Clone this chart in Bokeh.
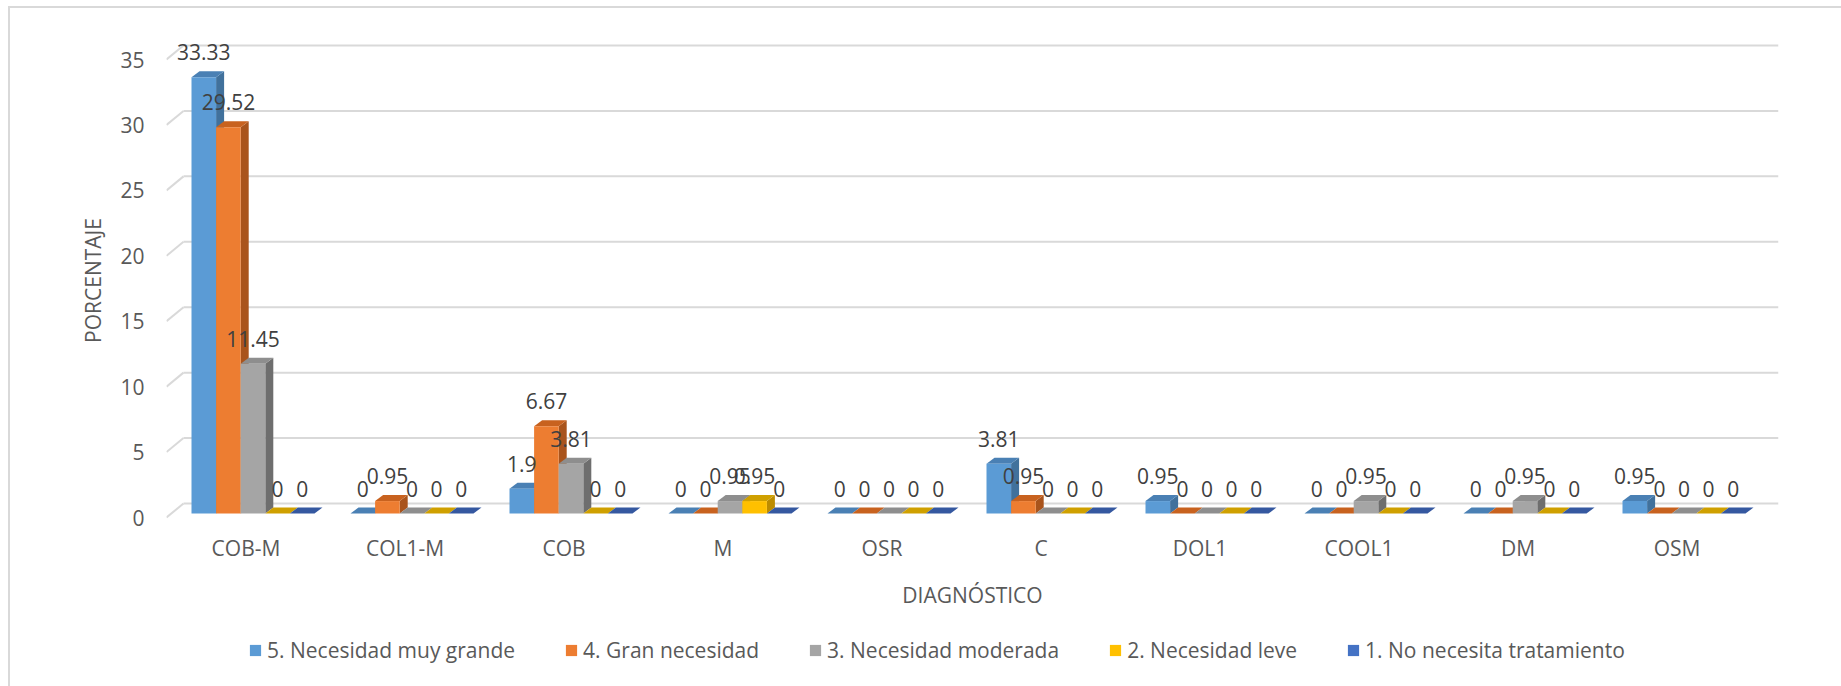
from bokeh.plotting import figure
from bokeh.layouts import column
from bokeh.models import ColumnDataSource, FixedTicker, Legend, LegendItem, Range1d
from bokeh.core.properties import value
from bokeh.embed import file_html
from bokeh.resources import INLINE

# ---- data -------------------------------------------------------------
categories = ["COB-M", "COL1-M", "COB", "M", "OSR", "C", "DOL1", "COOL1", "DM", "OSM"]
series_names = ["5. Necesidad muy grande", "4. Gran necesidad", "3. Necesidad moderada",
                "2. Necesidad leve", "1. No necesita tratamiento"]
necesidad_muy_grande = [33.33, 0, 1.9, 0, 0, 3.81, 0.95, 0, 0, 0.95]
gran_necesidad = [29.52, 0.95, 6.67, 0, 0, 0.95, 0, 0, 0, 0]
necesidad_moderada = [11.45, 0, 3.81, 0.95, 0, 0, 0, 0.95, 0.95, 0]
necesidad_leve = [0, 0, 0, 0.95, 0, 0, 0, 0, 0, 0]
no_necesita = [0, 0, 0, 0, 0, 0, 0, 0, 0, 0]
y_ticks = [0, 5, 10, 15, 20, 25, 30, 35]

series = [necesidad_muy_grande, gran_necesidad, necesidad_moderada, necesidad_leve, no_necesita]

# ---- style --------------------------------------------------------------
front_colors = ["#5B9BD5", "#ED7D31", "#A5A5A5", "#FFC000", "#4472C4"]
side_colors = ["#41719C", "#A9541C", "#6E6E6E", "#BC8C00", "#2F528F"]
top_colors = ["#4A80B4", "#C8621F", "#8E8E8E", "#CFA000", "#3558A0"]
FONT = "Open Sans"
FONT_SIZE = "21px"
GRID = "#D9D9D9"

W, H = 1841, 686
OFF_X, OFF_Y = 10, 8    # page offset of the drawing (margin + border line)
SPLIT = 620             # page row where the legend strip starts
FRAME_L, FRAME_R, FRAME_T, FRAME_B = 166, 1778, 30, 530   # page pixels
ZERO_ROW = 517          # page row of value 0 on the front plane
PX_X = 159.0            # pixels per category
PX_Y = 458.0 / 35.0     # pixels per percentage point
LEGEND_X = 248          # page column where the legend starts

x_start = -0.5
x_end = x_start + (FRAME_R - FRAME_L) / PX_X
y_start = -(FRAME_B - ZERO_ROW) / PX_Y
y_end = (ZERO_ROW - FRAME_T) / PX_Y

bar_w = 24.6 / PX_X          # width of one column
bar_lead = 25 / PX_X         # gap from category edge to first column
base = 4 / PX_Y              # columns stand slightly behind the front plane
ddx, ddy = 8 / PX_X, 6 / PX_Y        # column depth
wall_dx, wall_dy = 17 / PX_X, 14 / PX_Y  # depth of the back wall
label_gap = 25 / PX_Y

p = figure(width=W - OFF_X, height=SPLIT - OFF_Y, x_range=Range1d(x_start, x_end),
           y_range=Range1d(y_start, y_end), output_backend="svg",
           toolbar_location=None, min_border_left=FRAME_L - OFF_X,
           min_border_right=W - FRAME_R, min_border_top=FRAME_T - OFF_Y,
           min_border_bottom=SPLIT - FRAME_B)
p.outline_line_color = None
p.xgrid.visible = False
p.ygrid.visible = False

# back wall gridlines with their receding stubs on the left
n = len(y_ticks)
p.segment(x0=[x_start] * n, y0=y_ticks, x1=[x_start + wall_dx] * n,
          y1=[t + wall_dy for t in y_ticks], line_color=GRID, line_width=2)
p.segment(x0=[x_start + wall_dx] * n, y0=[t + wall_dy for t in y_ticks],
          x1=[x_end] * n, y1=[t + wall_dy for t in y_ticks],
          line_color=GRID, line_width=2)

# pseudo-3D columns: side faces, top faces, then front faces
side = dict(xs=[], ys=[], color=[])
top = dict(xs=[], ys=[], color=[])
lab = dict(x=[], y=[], text=[])
fronts = []
for j, vals in enumerate(series):
    lefts, rights, tops = [], [], []
    for i, v in enumerate(vals):
        l = i - 0.5 + bar_lead + j * bar_w
        r = l + bar_w
        t = base + v
        lefts.append(l)
        rights.append(r)
        tops.append(t)
        side["xs"].append([r, r, r + ddx, r + ddx])
        side["ys"].append([base, t, t + ddy, base + ddy])
        side["color"].append(side_colors[j])
        top["xs"].append([l, l + ddx, r + ddx, r])
        top["ys"].append([t, t + ddy, t + ddy, t])
        top["color"].append(top_colors[j])
        lab["x"].append((l + r) / 2)
        lab["y"].append(t + label_gap)
        lab["text"].append(f"{v:g}")
    fronts.append((lefts, rights, tops))

p.patches(xs="xs", ys="ys", fill_color="color", line_color=None,
          source=ColumnDataSource(side))
p.patches(xs="xs", ys="ys", fill_color="color", line_color=None,
          source=ColumnDataSource(top))

for j, (lefts, rights, tops) in enumerate(fronts):
    p.quad(left=lefts, right=rights, bottom=[base] * len(lefts), top=tops,
           fill_color=front_colors[j], line_color=None)

p.text(x="x", y="y", text="text", source=ColumnDataSource(lab),
       text_align="center", text_baseline="middle", text_font=value(FONT),
       text_font_size=FONT_SIZE, text_color="#404040")

# axes
p.yaxis.ticker = FixedTicker(ticks=y_ticks)
p.yaxis.axis_line_color = None
p.yaxis.major_tick_line_color = None
p.yaxis.minor_tick_line_color = None
p.yaxis.major_tick_out = 0
p.yaxis.major_label_standoff = 22
p.yaxis.axis_label = "PORCENTAJE"
p.yaxis.axis_label_standoff = 10

p.xaxis.ticker = FixedTicker(ticks=list(range(len(categories))))
p.xaxis.major_label_overrides = {i: c for i, c in enumerate(categories)}
p.xaxis.axis_line_color = None
p.xaxis.major_tick_line_color = None
p.xaxis.minor_tick_line_color = None
p.xaxis.major_tick_out = 0
p.xaxis.major_label_standoff = 3
p.xaxis.axis_label = "DIAGNÓSTICO"
p.xaxis.axis_label_standoff = 16

for ax in (p.xaxis[0], p.yaxis[0]):
    ax.major_label_text_font = FONT
    ax.major_label_text_font_size = FONT_SIZE
    ax.major_label_text_color = "#595959"
    ax.axis_label_text_font = FONT
    ax.axis_label_text_font_size = FONT_SIZE
    ax.axis_label_text_font_style = "normal"
    ax.axis_label_text_color = "#595959"

# legend strip underneath the chart (its frame lines up with the chart frame)
leg = figure(width=W - OFF_X, height=H - SPLIT, x_range=Range1d(0, 1),
             y_range=Range1d(0, 1), output_backend="svg", toolbar_location=None,
             x_axis_type=None, y_axis_type=None, min_border=0)
leg.outline_line_color = None
leg.xgrid.visible = False
leg.ygrid.visible = False
nan = float("nan")
swatches = [leg.quad(left=[nan], right=[nan], bottom=[nan], top=[nan],
                     fill_color=c, line_color=None)
            for c in front_colors]
legend = Legend(
    items=[LegendItem(label=name, renderers=[rend])
           for name, rend in zip(series_names, swatches)],
    orientation="horizontal", location=(LEGEND_X - FRAME_L, 22),
    glyph_width=14, glyph_height=14, label_standoff=5, spacing=49,
    padding=0, margin=0, border_line_color=None, background_fill_alpha=0,
    label_text_font=FONT, label_text_font_size=FONT_SIZE,
    label_text_color="#595959")
leg.add_layout(legend, "center")

chart = column(p, leg, spacing=0)
chart.styles = {"margin-left": "8px", "margin-top": "6px",
                "border-left": "2px solid #D9D9D9", "border-top": "2px solid #D9D9D9"}

open("out.html", "w").write(file_html(chart, INLINE))
